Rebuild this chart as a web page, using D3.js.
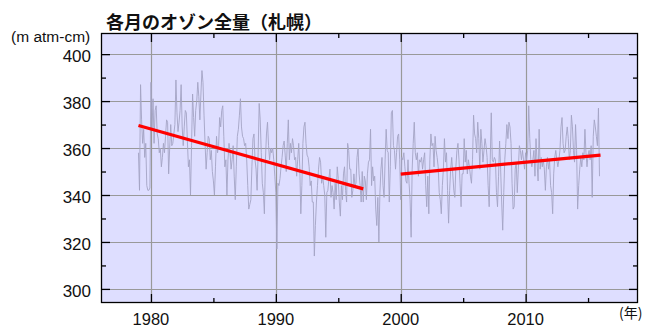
<!DOCTYPE html>
<html>
<head>
<meta charset="utf-8">
<script src="https://cdn.jsdelivr.net/npm/d3@7"></script>
<style>
  html, body { margin: 0; padding: 0; background: #ffffff; }
  svg { display: block; }
</style>
</head>
<body>
<svg id="chart" width="645" height="329"></svg>
<script>
// Monthly total ozone at Sapporo (m atm-cm), January 1979 to December 2015
const firstYear = 1979;
const ozone = [
  358, 342, 387, 372, 362, 368, 356, 362, 344, 342, 342, 343, // 1979
  388, 368, 381, 362, 376, 378, 366, 364, 358, 360, 352, 356, // 1980
  362, 358, 365, 372, 371, 349, 360, 370, 361, 362, 366, 370, // 1981
  389, 375, 367, 371, 376, 387, 369, 361, 369, 376, 375, 363, // 1982
  352, 355, 340, 361, 383, 373, 365, 376, 380, 388, 382, 372, // 1983
  383, 393, 388, 374, 362, 351, 358, 365, 364, 355, 359, 350, // 1984
  346, 340, 352, 365, 358, 361, 373, 369, 376, 378, 365, 352, // 1985
  355, 340, 355, 362, 358, 351, 355, 361, 348, 338, 352, 365, // 1986
  368, 374, 381, 369, 365, 364, 361, 362, 355, 344, 334, 336, // 1987
  338, 352, 364, 366, 355, 351, 342, 358, 379, 372, 358, 345, // 1988
  341, 332, 355, 366, 371, 361, 355, 360, 358, 360, 355, 348, // 1989
  341, 317, 345, 344, 347, 352, 356, 361, 363, 357, 350, 362, // 1990
  372, 355, 362, 358, 364, 361, 355, 356, 348, 355, 362, 352, // 1991
  332, 344, 362, 369, 371, 362, 357, 356, 352, 344, 346, 337, // 1992
  337, 314, 327, 337, 344, 351, 356, 354, 345, 348, 344, 340, // 1993
  322, 341, 342, 347, 351, 339, 344, 341, 334, 345, 338, 352, // 1994
  347, 337, 331, 344, 338, 349, 352, 342, 337, 362, 359, 351, // 1995
  351, 339, 342, 349, 344, 345, 356, 360, 349, 344, 337, 350, // 1996
  337, 348, 346, 338, 349, 354, 355, 368, 344, 352, 346, 348, // 1997
  334, 327, 339, 320, 341, 351, 356, 344, 339, 355, 368, 359, // 1998
  358, 337, 352, 375, 376, 361, 359, 351, 358, 365, 366, 355, // 1999
  338, 356, 355, 358, 352, 346, 345, 355, 345, 338, 322, 351, // 2000
  362, 371, 358, 355, 358, 348, 355, 354, 356, 351, 355, 358, // 2001
  344, 335, 348, 332, 355, 366, 361, 362, 352, 365, 359, 356, // 2002
  352, 341, 338, 332, 344, 351, 364, 354, 358, 342, 328, 342, // 2003
  351, 356, 349, 342, 339, 352, 359, 362, 355, 345, 335, 349, // 2004
  349, 364, 354, 359, 349, 355, 352, 348, 345, 355, 374, 366, // 2005
  364, 358, 371, 364, 351, 368, 362, 354, 359, 364, 361, 356, // 2006
  344, 335, 355, 375, 355, 354, 356, 355, 341, 335, 348, 363, // 2007
  351, 337, 325, 341, 355, 362, 370, 364, 371, 369, 362, 345, // 2008
  334, 335, 351, 354, 341, 351, 361, 359, 355, 359, 355, 351, // 2009
  358, 355, 359, 378, 364, 355, 352, 355, 359, 348, 364, 354, // 2010
  346, 368, 351, 356, 352, 355, 351, 342, 352, 356, 351, 355, // 2011
  344, 341, 332, 349, 356, 359, 355, 352, 355, 359, 369, 373, // 2012
  362, 358, 359, 365, 369, 364, 355, 359, 374, 369, 359, 354, // 2013
  370, 359, 334, 344, 351, 356, 352, 358, 355, 368, 358, 352, // 2014
  357, 359, 355, 361, 339, 365, 372, 369, 365, 361, 377, 348  // 2015
];

// Linear trends: 1979–1996 and 2000–2015 (start / end of each fitted segment)
const trendEarly = [[1979, 369.6], [1997, 342.6]];
const trendLate = [[2000, 348.9], [2016, 357.0]];

// Axis ticks
const yMajor = [300, 320, 340, 360, 380, 400];
const yMinor = [310, 330, 350, 370, 390];
const xMajor = [1980, 1990, 2000, 2010];
const xMinor = [1985, 1995, 2005, 2015];

(function draw() {
  const svg = d3.select("#chart");
  const plotL = 101, plotR = 638, plotT = 33, plotB = 303;

  const x = d3.scaleLinear().domain([1976, 2019]).range([plotL, plotR]);
  const y = d3.scaleLinear().domain([294, 409]).range([plotB, plotT]);

  // Plot area background
  svg.append("rect")
    .attr("x", plotL).attr("y", plotT)
    .attr("width", plotR - plotL).attr("height", plotB - plotT)
    .attr("fill", "#dedeff");

  // Grid lines at major ticks
  const grid = svg.append("g").attr("stroke", "#999999").attr("stroke-width", 1.2);
  grid.selectAll(".gy").data(yMajor).join("line")
    .attr("x1", plotL).attr("x2", plotR)
    .attr("y1", d => Math.round(y(d)) + 0.5).attr("y2", d => Math.round(y(d)) + 0.5);
  grid.selectAll(".gx").data(xMajor).join("line")
    .attr("y1", plotT).attr("y2", plotB)
    .attr("x1", d => Math.round(x(d)) + 0.5).attr("x2", d => Math.round(x(d)) + 0.5);

  // Monthly series
  const series = ozone.map((v, i) => [firstYear + i / 12, v]);
  const line = d3.line().x(d => x(d[0])).y(d => y(d[1]));
  svg.append("path")
    .datum(series)
    .attr("d", line)
    .attr("fill", "none")
    .attr("stroke", "#a4a4c4")
    .attr("stroke-width", 0.9)
    .attr("stroke-linejoin", "round");

  // Trend lines
  [trendEarly, trendLate].forEach(seg => {
    svg.append("path")
      .datum(seg)
      .attr("d", line)
      .attr("fill", "none")
      .attr("stroke", "#ff0000")
      .attr("stroke-width", 3.2);
  });

  // Axes: ticks pointing into the plot on all four sides
  const axisL = svg.append("g").attr("transform", `translate(${plotL},0)`)
    .call(d3.axisRight(y).tickValues(yMajor).tickSize(9).tickFormat(""));
  axisL.append("g")
    .call(d3.axisRight(y).tickValues(yMinor).tickSize(5).tickFormat(""));
  const axisR = svg.append("g").attr("transform", `translate(${plotR},0)`)
    .call(d3.axisLeft(y).tickValues(yMajor).tickSize(9).tickFormat(""));
  axisR.append("g")
    .call(d3.axisLeft(y).tickValues(yMinor).tickSize(5).tickFormat(""));
  const axisB = svg.append("g").attr("transform", `translate(0,${plotB})`)
    .call(d3.axisTop(x).tickValues(xMajor).tickSize(9).tickFormat(""));
  axisB.append("g")
    .call(d3.axisTop(x).tickValues(xMinor).tickSize(5).tickFormat(""));
  const axisT = svg.append("g").attr("transform", `translate(0,${plotT})`)
    .call(d3.axisBottom(x).tickValues(xMajor).tickSize(9).tickFormat(""));
  axisT.append("g")
    .call(d3.axisBottom(x).tickValues(xMinor).tickSize(5).tickFormat(""));
  svg.selectAll(".domain").remove();
  svg.selectAll(".tick line").attr("stroke", "#000").attr("stroke-width", 1.3);

  // Frame
  svg.append("rect")
    .attr("x", plotL + 0.5).attr("y", plotT + 0.5)
    .attr("width", plotR - plotL - 1).attr("height", plotB - plotT - 1)
    .attr("fill", "none").attr("stroke", "#000").attr("stroke-width", 1.3);

  // Tick labels
  const labelFont = "'Liberation Sans', Arial, sans-serif";
  svg.append("g").selectAll("text").data(yMajor).join("text")
    .attr("x", 91).attr("y", d => y(d) + 8)
    .attr("text-anchor", "end")
    .attr("font-family", labelFont).attr("font-size", 17)
    .attr("fill", "#111")
    .text(d => d);
  svg.append("g").selectAll("text").data(xMajor).join("text")
    .attr("x", d => x(d)).attr("y", 325)
    .attr("text-anchor", "middle")
    .attr("font-family", labelFont).attr("font-size", 16.5)
    .attr("fill", "#111")
    .text(d => d);

  // Unit labels and title
  svg.append("text")
    .attr("x", 11).attr("y", 42)
    .attr("font-family", labelFont).attr("font-size", 15.5)
    .attr("fill", "#111")
    .text("(m atm-cm)");
  svg.append("text")
    .attr("x", 619).attr("y", 318)
    .attr("font-family", "'Noto Sans CJK JP', sans-serif").attr("font-size", 14)
    .attr("fill", "#111")
    .text("(年)");
  svg.append("text")
    .attr("x", 106).attr("y", 29)
    .attr("font-family", "'Noto Sans CJK JP', sans-serif").attr("font-size", 18)
    .attr("font-weight", "bold")
    .attr("fill", "#111")
    .text("各月のオゾン全量（札幌）");
})();
</script>
</body>
</html>
